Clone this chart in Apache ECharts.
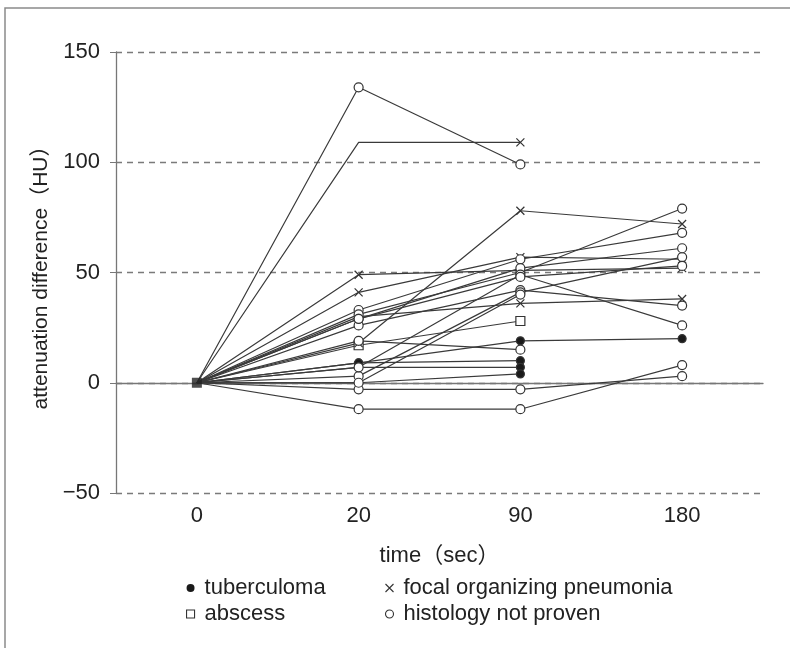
<!DOCTYPE html>
<html><head><meta charset="utf-8">
<script src="https://cdn.jsdelivr.net/npm/echarts@6/dist/echarts.min.js"></script>
<style>html,body{margin:0;padding:0;background:#fff}#c{width:790px;height:648px}</style>
</head><body><div id="c"></div>
<script>
// time points (sec)
const timeLabels = ['0', '20', '90', '180'];
// attenuation difference (HU) per patient at 0, 20, 90, 180 s
const tuberculoma = [
  [0, 9, 19, 20],
  [0, 9, 10, null],
  [0, 7, 7, null],
  [0, 0, 4, null]
];
const abscess = [
  [0, 17, 28, null]
];
const focalPneumonia = [
  [0, 109, 109, null],
  [0, 49, 51, 52],
  [0, 41, 57, 56],
  [0, 18, 78, 72],
  [0, 30, 36, 38]
];
const notProven = [
  [0, 134, 99, null],
  [0, -12, -12, 8],
  [0, -3, -3, 3],
  [0, 19, 15, null],
  [0, 33, 56, 68],
  [0, 31, 50, 79],
  [0, 26, 42, 35],
  [0, 3, 41, 57],
  [0, 0, 40, null],
  [0, 29, 52, 61],
  [0, 7, 49, 26],
  [0, 29, 48, 53]
];
// markers not visible in the original: [patient index, time index]
const focalHiddenMarkers = [[0, 1]];
const yTickMin = -50, yTickMax = 150, yTickStep = 50;

const FONT = "'Liberation Sans', 'Noto Sans CJK JP', sans-serif";
const X_PATH = 'path://M0,0L10,10M10,0L0,10';
const INK = '#333';

const groups = [
  { name: 'tuberculoma', data: tuberculoma, symbol: 'circle', size: 8, fill: '#1a1a1a', hidden: [] },
  { name: 'abscess', data: abscess, symbol: 'rect', size: 9, fill: '#fff', hidden: [] },
  { name: 'focal organizing pneumonia', data: focalPneumonia, symbol: X_PATH, size: 8, fill: 'none', hidden: focalHiddenMarkers },
  { name: 'histology not proven', data: notProven, symbol: 'circle', size: 9, fill: '#fff', hidden: [] }
];

const series = [];
groups.forEach(g => {
  g.data.forEach(p => {
    series.push({
      type: 'line', name: g.name, data: p, symbol: 'none', silent: true, z: 2,
      lineStyle: { color: '#3a3a3a', width: 1.2 }, itemStyle: { color: '#3a3a3a' }
    });
  });
});
groups.forEach(g => {
  const pts = [];
  g.data.forEach((p, pi) => p.forEach((v, ti) => {
    if (ti === 0 || v == null) return;
    if (g.hidden.some(h => h[0] === pi && h[1] === ti)) return;
    pts.push([ti, v]);
  }));
  series.push({
    type: 'scatter', name: g.name, data: pts, symbol: g.symbol, symbolSize: g.size, z: 4,
    itemStyle: { color: g.fill, borderColor: INK, borderWidth: 1.2, opacity: 1 }
  });
});
series.push({
  type: 'scatter', name: 'origin', data: [[0, 0]], symbol: 'rect', symbolSize: 10, z: 5,
  itemStyle: { color: '#222' }
});

const legendText = { fontSize: 22, color: '#222', fontFamily: FONT, padding: [0, 0, 0, 5] };
function legendItem(g) {
  return {
    name: g.name, icon: g.symbol,
    itemStyle: { color: g.fill, borderColor: INK, borderWidth: g.symbol === 'circle' && g.fill !== '#fff' ? 0 : 1.1 }
  };
}

const chart = echarts.init(document.getElementById('c'), null, { renderer: 'canvas' });
chart.setOption({
  animation: false,
  backgroundColor: '#fff',
  graphic: [{
    type: 'rect', shape: { x: 5, y: 8, width: 900, height: 800 }, silent: true,
    style: { fill: 'none', stroke: '#8a8a8a', lineWidth: 1.5 }
  }],
  grid: { left: 116, right: 27, top: 52, bottom: 155 },
  legend: [
    {
      orient: 'vertical', left: 186, top: 577, padding: 0, itemGap: 4, itemWidth: 8, itemHeight: 8,
      selectedMode: false, textStyle: legendText,
      data: [legendItem(groups[0]), legendItem(groups[1])]
    },
    {
      orient: 'vertical', left: 383, top: 577, padding: 0, itemGap: 4, itemWidth: 8, itemHeight: 8,
      selectedMode: false, textStyle: legendText,
      data: [legendItem(groups[2]), legendItem(groups[3])]
    }
  ],
  xAxis: {
    type: 'category', data: timeLabels, boundaryGap: true,
    name: 'time（sec）', nameLocation: 'middle', nameGap: 52,
    nameTextStyle: { fontSize: 22, color: '#222', fontFamily: FONT },
    axisLine: { lineStyle: { color: '#777', width: 1.3 } },
    axisTick: { alignWithLabel: true, length: 4, lineStyle: { color: '#777' } },
    axisLabel: { fontSize: 22, color: '#222', fontFamily: FONT, margin: 12 },
    splitLine: { show: false }
  },
  yAxis: {
    type: 'value', min: yTickMin, max: yTickMax, interval: yTickStep,
    name: 'attenuation difference（HU）', nameLocation: 'middle', nameGap: 56, nameRotate: 90,
    nameTextStyle: { fontSize: 21, color: '#222', fontFamily: FONT },
    axisLine: { show: true, lineStyle: { color: '#777', width: 1.3 } },
    axisTick: { show: true, length: 6, lineStyle: { color: '#777' } },
    axisLabel: { fontSize: 22, color: '#222', fontFamily: FONT, margin: 16,
      formatter: v => String(v).replace('-', '\u2212') },
    splitLine: { show: true, lineStyle: { color: '#7a7a7a', width: 1.3, type: [6, 5] } }
  },
  series: series
});
</script>
</body></html>
